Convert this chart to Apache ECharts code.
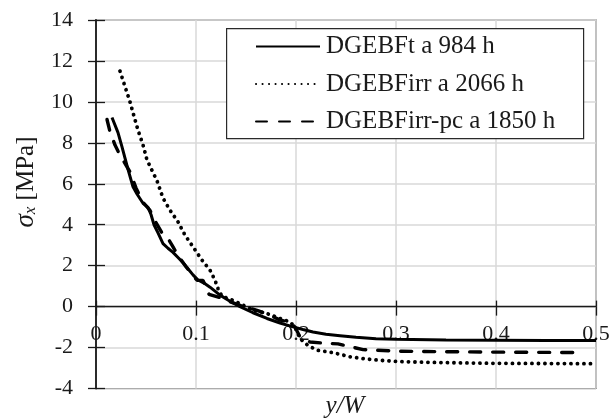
<!DOCTYPE html>
<html>
<head>
<meta charset="utf-8">
<script src="https://cdn.jsdelivr.net/npm/echarts@6/dist/echarts.min.js"></script>
<style>html,body{margin:0;padding:0;background:#fff}#c{width:611px;height:419px}</style>
</head>
<body>
<div id="c"></div>
<script>
// ---- data ----
var seriesNames = ['DGEBFt a 984 h', 'DGEBFirr a 2066 h', 'DGEBFirr-pc a 1850 h'];
var xTicks = [0, 0.1, 0.2, 0.3, 0.4, 0.5];
var yTicks = [-4, -2, 0, 2, 4, 6, 8, 10, 12, 14];

var ftX = [0.016, 0.022, 0.026, 0.032, 0.037, 0.041, 0.047, 0.052, 0.055, 0.058, 0.062, 0.067, 0.072, 0.077, 0.082, 0.087, 0.092, 0.097, 0.102, 0.108, 0.114, 0.124, 0.134, 0.144, 0.157, 0.171, 0.184, 0.197, 0.207, 0.217, 0.23, 0.244, 0.26, 0.28, 0.30, 0.35, 0.40, 0.45, 0.50];
var ftY = [9.24, 8.5, 7.8, 6.7, 5.85, 5.5, 5.05, 4.85, 4.5, 4.0, 3.6, 3.08, 2.85, 2.65, 2.4, 2.15, 1.85, 1.55, 1.3, 1.15, 0.95, 0.56, 0.26, 0.0, -0.3, -0.58, -0.8, -0.99, -1.12, -1.24, -1.35, -1.42, -1.5, -1.57, -1.6, -1.63, -1.64, -1.65, -1.66];

var irrX = [0.024, 0.029, 0.034, 0.038, 0.042, 0.047, 0.051, 0.056, 0.061, 0.067, 0.074, 0.082, 0.089, 0.097, 0.106, 0.114, 0.119, 0.122, 0.126, 0.131, 0.137, 0.144, 0.157, 0.171, 0.184, 0.194, 0.199, 0.204, 0.212, 0.221, 0.237, 0.254, 0.267, 0.283, 0.30, 0.33, 0.367, 0.40, 0.45, 0.50];
var irrY = [11.5, 10.75, 10.0, 9.3, 8.62, 7.9, 7.16, 6.65, 6.15, 5.3, 4.71, 4.14, 3.49, 2.92, 2.27, 1.78, 1.29, 0.88, 0.5, 0.42, 0.3, 0.15, -0.18, -0.34, -0.58, -0.75, -1.0, -1.56, -1.9, -2.13, -2.25, -2.45, -2.54, -2.62, -2.68, -2.72, -2.75, -2.77, -2.78, -2.79];

var pcX = [0.011, 0.014, 0.019, 0.024, 0.031, 0.034, 0.04, 0.047, 0.054, 0.06, 0.066, 0.071, 0.076, 0.082, 0.09, 0.097, 0.101, 0.107, 0.113, 0.124, 0.135, 0.145, 0.161, 0.174, 0.184, 0.194, 0.199, 0.204, 0.214, 0.231, 0.242, 0.267, 0.304, 0.367, 0.42, 0.477];
var pcY = [9.14, 8.54, 7.89, 7.4, 6.83, 6.58, 5.8, 5.1, 4.7, 4.1, 3.6, 3.41, 3.0, 2.5, 1.95, 1.5, 1.29, 1.28, 0.6, 0.44, 0.22, 0.05, -0.18, -0.42, -0.66, -0.75, -1.0, -1.48, -1.73, -1.8, -1.82, -2.1, -2.18, -2.21, -2.23, -2.24];

function pairs(xs, ys) { return xs.map(function (x, i) { return [x, ys[i]]; }); }

var FONT = 'Liberation Serif';
var INK = '#1a1a1a';
var chart = echarts.init(document.getElementById('c'), null, { renderer: 'canvas' });

var xMin = xTicks[0], xMax = xTicks[xTicks.length - 1], xInt = xTicks[1] - xTicks[0];
var yMin = yTicks[0], yMax = yTicks[yTicks.length - 1], yInt = yTicks[1] - yTicks[0];

var G = { left: 96, right: 15, top: 20, bottom: 30.5 };
var gridH = 419 - G.top - G.bottom;
// shift the x axis up so it sits on y = 0
var zeroOffset = -gridH * (0 - yMin) / (yMax - yMin);

var baseX = { type: 'value', min: xMin, max: xMax, interval: xInt, position: 'bottom', offset: zeroOffset };
var baseY = { type: 'value', min: yMin, max: yMax, interval: yInt, position: 'left' };

chart.setOption({
  animation: false,
  backgroundColor: '#fff',
  grid: { left: G.left, right: G.right, top: G.top, bottom: G.bottom, containLabel: false, outerBoundsMode: 'none',
          show: true, borderColor: '#2a2a2a', borderWidth: 1.2 },
  xAxis: [
    Object.assign({}, baseX, {
      axisLine: { onZero: false, lineStyle: { color: INK, width: 1.3 } },
      axisTick: { show: true, inside: false, length: 9, lineStyle: { color: INK, width: 1.3 } },
      axisLabel: { color: INK, fontFamily: FONT, fontSize: 22, margin: 17, showMaxLabel: true, showMinLabel: true },
      splitLine: { show: true, lineStyle: { color: '#d9d9d9', width: 1.5 } }
    }),
    Object.assign({}, baseX, {
      axisLine: { onZero: false, show: false },
      axisTick: { show: true, inside: true, length: 6, lineStyle: { color: INK, width: 1.3 } },
      axisLabel: { show: false },
      splitLine: { show: false }
    })
  ],
  yAxis: [
    Object.assign({}, baseY, {
      axisLine: { show: true, onZero: false, lineStyle: { color: INK, width: 1.8 } },
      axisTick: { show: true, inside: false, length: 8, lineStyle: { color: INK, width: 1.3 } },
      axisLabel: { color: INK, fontFamily: FONT, fontSize: 22, margin: 23 },
      splitLine: { show: true, lineStyle: { color: '#d9d9d9', width: 1.5 } }
    }),
    Object.assign({}, baseY, {
      axisLine: { show: false, onZero: false },
      axisTick: { show: true, inside: true, length: 9, lineStyle: { color: INK, width: 1.3 } },
      axisLabel: { show: false },
      splitLine: { show: false }
    })
  ],
  legend: {
    orient: 'vertical',
    left: 226 + 29 - 5,
    top: 28 + 6,
    padding: [0, 0, 0, 5],
    itemWidth: 64,
    itemHeight: 14,
    itemGap: 12.5,
    z: 10,
    itemStyle: { opacity: 0 },
    textStyle: { color: INK, fontFamily: FONT, fontSize: 25, lineHeight: 24, padding: [0, 0, 0, 1] },
    data: seriesNames
  },
  graphic: [
    { type: 'rect', left: 226, top: 28, shape: { width: 357, height: 110 }, style: { fill: '#fff', stroke: '#2a2a2a', lineWidth: 1.2 }, z: 5 },
    { type: 'text', x: 25, y: 182, rotation: Math.PI / 2, z: 10,
      style: { text: '{s|σ}{sub|x}{n| [MPa]}', align: 'center', verticalAlign: 'middle', fill: INK,
        rich: {
          s: { fontFamily: FONT, fontSize: 27, fontStyle: 'italic', fill: INK, lineHeight: 28, verticalAlign: 'bottom' },
          sub: { fontFamily: FONT, fontSize: 17, fontStyle: 'italic', fill: INK, lineHeight: 21, verticalAlign: 'bottom' },
          n: { fontFamily: FONT, fontSize: 25, fill: INK, lineHeight: 28, verticalAlign: 'bottom' }
        } } },
    { type: 'text', x: 345, y: 406, z: 10,
      style: { text: 'y/W', align: 'center', verticalAlign: 'middle', fill: INK, fontFamily: FONT, fontSize: 25, fontStyle: 'italic' } }
  ],
  series: [
    { name: seriesNames[0], type: 'line', data: pairs(ftX, ftY), showSymbol: false, symbol: 'none', z: 4,
      lineStyle: { color: '#000', width: 3, type: 'solid' }, itemStyle: { color: '#000' } },
    { name: seriesNames[1], type: 'line', data: pairs(irrX, irrY), showSymbol: false, symbol: 'none', z: 3,
      lineStyle: { color: '#000', width: 3.8, type: [0.1, 6.4], cap: 'round' }, itemStyle: { color: '#000' } },
    { name: seriesNames[2], type: 'line', data: pairs(pcX, pcY), showSymbol: false, symbol: 'none', z: 3,
      lineStyle: { color: '#000', width: 3.4, type: [11, 12], cap: 'round' }, itemStyle: { color: '#000' } }
  ]
});
</script>
</body>
</html>
